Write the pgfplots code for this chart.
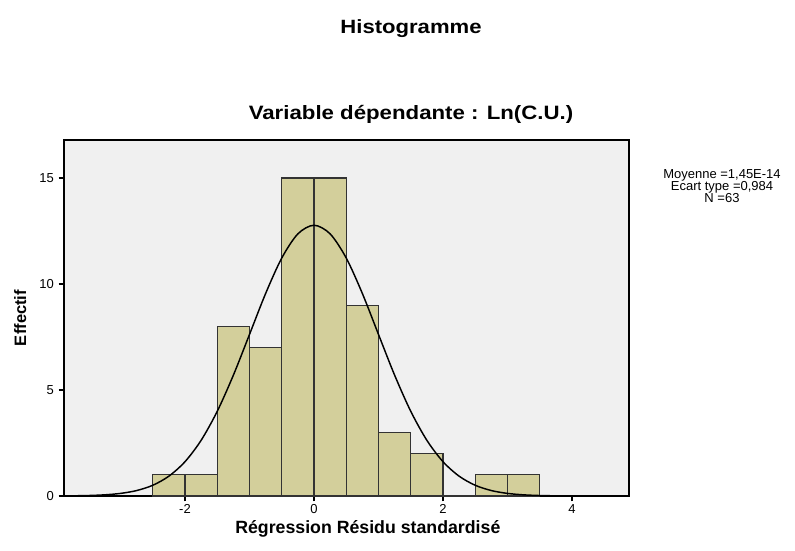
\documentclass[border=0pt]{standalone}
\usepackage{pgfplots}
\pgfplotsset{compat=1.18}
\usepackage{fontspec}
\setmainfont{Liberation Sans}
\newfontfamily\widefont[FakeStretch=1.15]{Liberation Sans}
\definecolor{plotbg}{HTML}{F0F0F0}
\definecolor{barfill}{HTML}{D3CF9B}

\begin{document}
\begin{tikzpicture}[x=0.75pt,y=-0.75pt]
  % page frame in pixel units (origin top-left)
  \path (0,0) rectangle (795,550);
  \coordinate (axpos) at (64,496);

  \node[anchor=base] at (411,33) {\widefont\fontsize{14.4pt}{16pt}\selectfont\bfseries Histogramme};
  \node[anchor=base] at (411,119) {\widefont\fontsize{14.5pt}{16pt}\selectfont\bfseries Variable dépendante : Ln(C.U.)};

  \node[align=center, font=\fontsize{9.75pt}{9pt}\selectfont] at (722,186)
    {Moyenne =1,45E-14\\Ecart type =0,984\\N =63};

  \begin{axis}[
    at={(axpos)}, anchor=south west,
    scale only axis,
    width=423.75pt, height=267pt,
    xmin=-3.876, xmax=4.884,
    ymin=0, ymax=16.79,
    axis background/.style={fill=plotbg},
    axis line style={black, line width=0.9pt},
    xtick={-2,0,2,4}, ytick={0,5,10,15},
    xtick pos=bottom, ytick pos=left,
    tick align=outside,
    major tick length=4pt,
    tick style={black, line width=0.9pt},
    ticklabel style={font=\fontsize{9.75pt}{11pt}\selectfont},
    /pgf/number format/assume math mode=true,
    xticklabel style={yshift=1pt},
    xlabel={\fontsize{13.3pt}{15pt}\selectfont\bfseries Régression Résidu standardisé},
    ylabel={\fontsize{12.4pt}{14pt}\selectfont\bfseries Effectif},
    xlabel style={yshift=2pt, xshift=16pt},
    ylabel style={yshift=3pt},
    clip=true,
  ]
    % histogram counts per 0.5-wide bin (left edges)
    \addplot[ybar interval, fill=barfill, draw=black!80, line width=1pt] coordinates {
      (-2.5,1) (-2.0,1) (-1.5,8) (-1.0,7) (-0.5,15) (0.0,15)
      (0.5,9) (1.0,3) (1.5,2) (2.0,0) (2.5,1) (3.0,1) (3.5,1)
    };
    % fitted normal density scaled to counts (N=63, bin 0.5, sd 0.984)
    \addplot[smooth, black, line width=1.1pt] coordinates {
      (-3.876,0.0055) (-3.75,0.0090) (-3.5,0.0228) (-3.25,0.0546)
      (-3.0,0.1224) (-2.75,0.257) (-2.5,0.506) (-2.25,0.935)
      (-2.0,1.618) (-1.75,2.626) (-1.5,3.996) (-1.25,5.699)
      (-1.0,7.620) (-0.75,9.551) (-0.5,11.223) (-0.25,12.364)
      (0.0,12.770)
      (0.25,12.364) (0.5,11.223) (0.75,9.551) (1.0,7.620)
      (1.25,5.699) (1.5,3.996) (1.75,2.626) (2.0,1.618)
      (2.25,0.935) (2.5,0.506) (2.75,0.257) (3.0,0.1224)
      (3.25,0.0546) (3.5,0.0228) (3.75,0.0090) (4.0,0.0033)
      (4.25,0.0011) (4.5,0.0004) (4.75,0.0001) (4.884,0.00003)
    };
  \end{axis}
\end{tikzpicture}
\end{document}
